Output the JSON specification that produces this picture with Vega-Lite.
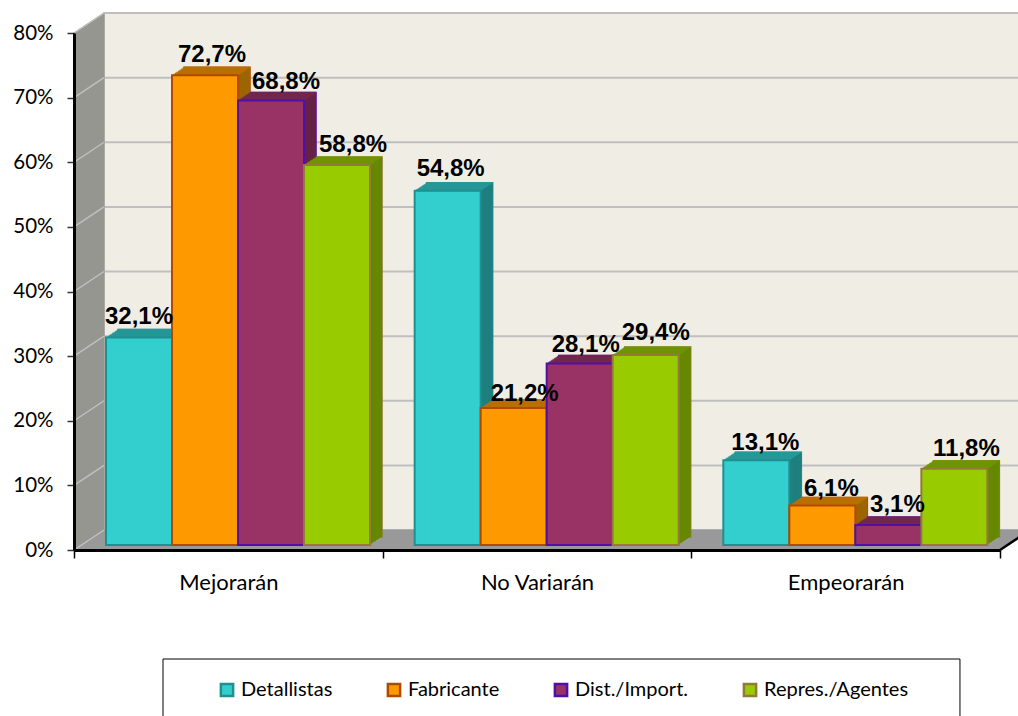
{"$schema":"https://vega.github.io/schema/vega-lite/v6.json","width":926,"height":517,"autosize":"none","padding":{"left":74,"top":33,"right":18,"bottom":166},"background":"white",
"config":{"view":{"stroke":null}},
"datasets":{"bars":[
{"c":"Mejorarán","s":"Detallistas","v":32.1,"label":"32,1%"},{"c":"Mejorarán","s":"Fabricante","v":72.7,"label":"72,7%"},{"c":"Mejorarán","s":"Dist./Import.","v":68.8,"label":"68,8%"},{"c":"Mejorarán","s":"Repres./Agentes","v":58.8,"label":"58,8%"},
{"c":"No Variarán","s":"Detallistas","v":54.8,"label":"54,8%"},{"c":"No Variarán","s":"Fabricante","v":21.2,"label":"21,2%"},{"c":"No Variarán","s":"Dist./Import.","v":28.1,"label":"28,1%"},{"c":"No Variarán","s":"Repres./Agentes","v":29.4,"label":"29,4%"},
{"c":"Empeorarán","s":"Detallistas","v":13.1,"label":"13,1%"},{"c":"Empeorarán","s":"Fabricante","v":6.1,"label":"6,1%"},{"c":"Empeorarán","s":"Dist./Import.","v":3.1,"label":"3,1%"},{"c":"Empeorarán","s":"Repres./Agentes","v":11.8,"label":"11,8%"}],
"grid":[{"g":0},{"g":10},{"g":20},{"g":30},{"g":40},{"g":50},{"g":60},{"g":70},{"g":80}],
"one":[{"k":"frame"}]},
"layer":[
{"data":{"name":"one"},"mark":{"type":"rect","fill":"#F0EEE4","stroke":"#BFBFBF","strokeWidth":2,"xOffset":30,"yOffset":-20,"x2Offset":184.3,"y2Offset":-20},"encoding":{
 "x":{"datum":"Mejorarán","bandPosition":0,"title":null,"scale":{"domain":["Mejorarán","No Variarán","Empeorarán"],"paddingInner":0,"paddingOuter":0},"axis":{"zindex":1,"tickBand":"extent","labelAngle":0,"domainColor":"#000000","domainWidth":3,"tickColor":"#000000","tickWidth":1.5,"tickSize":8,"labelFont":"Lato","labelFontSize":22,"labelColor":"#000000","labelPadding":24,"labelBaseline":"middle"}},
 "x2":{"datum":"Empeorarán"},
 "y":{"datum":0,"title":null,"scale":{"domain":[0,80],"nice":false},"axis":{"zindex":1,"values":[0,10,20,30,40,50,60,70,80],"labelExpr":"datum.value+'%'","domainColor":"#000000","domainWidth":3,"tickColor":"#333333","tickWidth":1.5,"tickSize":7,"labelFont":"Lato","labelFontSize":20.5,"labelColor":"#000000","labelPadding":14}},
 "y2":{"datum":80}}},
{"data":{"name":"grid"},"mark":{"type":"rule","color":"#BFBFBF","strokeWidth":2,"xOffset":30,"yOffset":-20,"x2Offset":184.3,"y2Offset":-20},"encoding":{"x":{"datum":"Mejorarán","bandPosition":0},"x2":{"datum":"Empeorarán"},"y":{"field":"g","type":"quantitative","title":null},"y2":{"field":"g"}}},
{"data":{"name":"one"},"encoding":{"x":{"datum":"Mejorarán","bandPosition":0},"y":{"datum":0},"y2":{"datum":80}},"layer":[
 {"mark":{"type":"rule","color":"#969690","strokeWidth":3,"xOffset":29,"yOffset":-19.3,"y2Offset":-19.3}},
 {"mark":{"type":"rule","color":"#969690","strokeWidth":3,"xOffset":27,"yOffset":-18,"y2Offset":-18}},
 {"mark":{"type":"rule","color":"#969690","strokeWidth":3,"xOffset":25,"yOffset":-16.7,"y2Offset":-16.7}},
 {"mark":{"type":"rule","color":"#969690","strokeWidth":3,"xOffset":23,"yOffset":-15.3,"y2Offset":-15.3}},
 {"mark":{"type":"rule","color":"#969690","strokeWidth":3,"xOffset":21,"yOffset":-14,"y2Offset":-14}},
 {"mark":{"type":"rule","color":"#969690","strokeWidth":3,"xOffset":19,"yOffset":-12.7,"y2Offset":-12.7}},
 {"mark":{"type":"rule","color":"#969690","strokeWidth":3,"xOffset":17,"yOffset":-11.3,"y2Offset":-11.3}},
 {"mark":{"type":"rule","color":"#969690","strokeWidth":3,"xOffset":15,"yOffset":-10,"y2Offset":-10}},
 {"mark":{"type":"rule","color":"#969690","strokeWidth":3,"xOffset":13,"yOffset":-8.7,"y2Offset":-8.7}},
 {"mark":{"type":"rule","color":"#969690","strokeWidth":3,"xOffset":11,"yOffset":-7.3,"y2Offset":-7.3}},
 {"mark":{"type":"rule","color":"#969690","strokeWidth":3,"xOffset":9,"yOffset":-6,"y2Offset":-6}},
 {"mark":{"type":"rule","color":"#969690","strokeWidth":3,"xOffset":7,"yOffset":-4.7,"y2Offset":-4.7}},
 {"mark":{"type":"rule","color":"#969690","strokeWidth":3,"xOffset":5,"yOffset":-3.3,"y2Offset":-3.3}},
 {"mark":{"type":"rule","color":"#969690","strokeWidth":3,"xOffset":3,"yOffset":-2,"y2Offset":-2}},
 {"mark":{"type":"rule","color":"#969690","strokeWidth":3,"xOffset":1,"yOffset":-0.7,"y2Offset":-0.7}}
]},
{"data":{"name":"one"},"encoding":{"x":{"datum":"Mejorarán","bandPosition":0},"x2":{"datum":"Empeorarán"},"y":{"datum":0}},"layer":[
 {"mark":{"type":"rule","color":"#999999","strokeWidth":3,"xOffset":28.5,"x2Offset":182.8,"yOffset":-19}},
 {"mark":{"type":"rule","color":"#999999","strokeWidth":3,"xOffset":25.5,"x2Offset":179.8,"yOffset":-17}},
 {"mark":{"type":"rule","color":"#999999","strokeWidth":3,"xOffset":22.5,"x2Offset":176.8,"yOffset":-15}},
 {"mark":{"type":"rule","color":"#999999","strokeWidth":3,"xOffset":19.5,"x2Offset":173.8,"yOffset":-13}},
 {"mark":{"type":"rule","color":"#999999","strokeWidth":3,"xOffset":16.5,"x2Offset":170.8,"yOffset":-11}},
 {"mark":{"type":"rule","color":"#999999","strokeWidth":3,"xOffset":13.5,"x2Offset":167.8,"yOffset":-9}},
 {"mark":{"type":"rule","color":"#999999","strokeWidth":3,"xOffset":10.5,"x2Offset":164.8,"yOffset":-7}},
 {"mark":{"type":"rule","color":"#999999","strokeWidth":3,"xOffset":7.5,"x2Offset":161.8,"yOffset":-5}},
 {"mark":{"type":"rule","color":"#999999","strokeWidth":3,"xOffset":4.5,"x2Offset":158.8,"yOffset":-3}},
 {"mark":{"type":"rule","color":"#999999","strokeWidth":3,"xOffset":1.5,"x2Offset":155.8,"yOffset":-1}}
]},
{"data":{"name":"grid"},"mark":{"type":"rule","color":"#BFBFBF","strokeWidth":1.5,"x2Offset":-124.33,"y2Offset":-20},"encoding":{"x":{"datum":"Mejorarán","bandPosition":0},"x2":{"datum":"Mejorarán"},"y":{"field":"g","type":"quantitative","title":null},"y2":{"field":"g"}}},
{"data":{"name":"one"},"mark":{"type":"rule","color":"#000000","strokeWidth":2.5,"x2Offset":184.3,"y2Offset":-20},"encoding":{"x":{"datum":"Empeorarán","bandPosition":1},"x2":{"datum":"Empeorarán"},"y":{"datum":0},"y2":{"datum":0}}},
{"data":{"name":"bars"},
 "encoding":{"x":{"field":"c","type":"nominal","title":null,"scale":{"domain":["Mejorarán","No Variarán","Empeorarán"],"paddingInner":0,"paddingOuter":0}},"xOffset":{"field":"s","type":"nominal","scale":{"type":"band","domain":["Detallistas","Fabricante","Dist./Import.","Repres./Agentes"],"paddingInner":0,"paddingOuter":0.338}},"y":{"field":"v","type":"quantitative","title":null}},
 "resolve":{"scale":{"color":"independent","xOffset":"independent"}},
 "layer":[
 {"mark":{"type":"bar","yOffset":-13,"y2Offset":-13,"strokeWidth":1.5},"encoding":{"xOffset":{"field":"s","type":"nominal","scale":{"type":"band","domain":["Detallistas","Fabricante","Dist./Import.","Repres./Agentes"],"paddingInner":0,"paddingOuter":0.338,"align":0.986}},"y2":{"datum":0},"fill":{"field":"s","type":"nominal","title":null,"scale":{"domain":["Detallistas","Fabricante","Dist./Import.","Repres./Agentes"],"range":["#33CFCF","#FF9900","#993366","#99CC00"]},"legend":{"orient":"none","legendX":143,"legendY":647,"columns":4,"gridAlign":"none","columnPadding":49,"symbolType":"square","symbolSize":150,"symbolStrokeWidth":2.5,"labelFont":"Lato","labelFontSize":20,"labelColor":"#000000","labelOffset":4,"labelLimit":300,"padding":0}},"stroke":{"field":"s","type":"nominal","title":null,"scale":{"domain":["Detallistas","Fabricante","Dist./Import.","Repres./Agentes"],"range":["#1F8F8F","#B04A00","#5010A8","#937A3C"]}}}},
 {"mark":{"type":"bar","yOffset":-13,"y2Offset":-13},"encoding":{"xOffset":{"field":"s","type":"nominal","scale":{"type":"band","domain":["Detallistas","Fabricante","Dist./Import.","Repres./Agentes"],"paddingInner":0,"paddingOuter":0.338,"align":0.986}},"y2":{"datum":0},"color":{"field":"s","type":"nominal","scale":{"range":["#1E7F7F","#662244","#9C6500","#668800"]},"legend":null}}},
 {"mark":{"type":"tick","size":66,"thickness":1.5,"yOffset":-13},"encoding":{"xOffset":{"field":"s","type":"nominal","scale":{"type":"band","domain":["Detallistas","Fabricante","Dist./Import.","Repres./Agentes"],"paddingInner":0,"paddingOuter":0.338,"align":0.986}},"color":{"field":"s","type":"nominal","scale":{"range":["#289E9E","#772850","#C07400","#739900"]},"legend":null}}},
 {"mark":{"type":"bar","yOffset":-12,"y2Offset":-12},"encoding":{"xOffset":{"field":"s","type":"nominal","scale":{"type":"band","domain":["Detallistas","Fabricante","Dist./Import.","Repres./Agentes"],"paddingInner":0,"paddingOuter":0.338,"align":0.953}},"y2":{"datum":0},"color":{"field":"s","type":"nominal","scale":{"range":["#1E7F7F","#662244","#9C6500","#668800"]},"legend":null}}},
 {"mark":{"type":"tick","size":66,"thickness":1.5,"yOffset":-12},"encoding":{"xOffset":{"field":"s","type":"nominal","scale":{"type":"band","domain":["Detallistas","Fabricante","Dist./Import.","Repres./Agentes"],"paddingInner":0,"paddingOuter":0.338,"align":0.953}},"color":{"field":"s","type":"nominal","scale":{"range":["#289E9E","#772850","#C07400","#739900"]},"legend":null}}},
 {"mark":{"type":"bar","yOffset":-11,"y2Offset":-11},"encoding":{"xOffset":{"field":"s","type":"nominal","scale":{"type":"band","domain":["Detallistas","Fabricante","Dist./Import.","Repres./Agentes"],"paddingInner":0,"paddingOuter":0.338,"align":0.919}},"y2":{"datum":0},"color":{"field":"s","type":"nominal","scale":{"range":["#1E7F7F","#662244","#9C6500","#668800"]},"legend":null}}},
 {"mark":{"type":"tick","size":66,"thickness":1.5,"yOffset":-11},"encoding":{"xOffset":{"field":"s","type":"nominal","scale":{"type":"band","domain":["Detallistas","Fabricante","Dist./Import.","Repres./Agentes"],"paddingInner":0,"paddingOuter":0.338,"align":0.919}},"color":{"field":"s","type":"nominal","scale":{"range":["#289E9E","#772850","#C07400","#739900"]},"legend":null}}},
 {"mark":{"type":"bar","yOffset":-10,"y2Offset":-10},"encoding":{"xOffset":{"field":"s","type":"nominal","scale":{"type":"band","domain":["Detallistas","Fabricante","Dist./Import.","Repres./Agentes"],"paddingInner":0,"paddingOuter":0.338,"align":0.885}},"y2":{"datum":0},"color":{"field":"s","type":"nominal","scale":{"range":["#1E7F7F","#662244","#9C6500","#668800"]},"legend":null}}},
 {"mark":{"type":"tick","size":66,"thickness":1.5,"yOffset":-10},"encoding":{"xOffset":{"field":"s","type":"nominal","scale":{"type":"band","domain":["Detallistas","Fabricante","Dist./Import.","Repres./Agentes"],"paddingInner":0,"paddingOuter":0.338,"align":0.885}},"color":{"field":"s","type":"nominal","scale":{"range":["#289E9E","#772850","#C07400","#739900"]},"legend":null}}},
 {"mark":{"type":"bar","yOffset":-9,"y2Offset":-9},"encoding":{"xOffset":{"field":"s","type":"nominal","scale":{"type":"band","domain":["Detallistas","Fabricante","Dist./Import.","Repres./Agentes"],"paddingInner":0,"paddingOuter":0.338,"align":0.852}},"y2":{"datum":0},"color":{"field":"s","type":"nominal","scale":{"range":["#1E7F7F","#662244","#9C6500","#668800"]},"legend":null}}},
 {"mark":{"type":"tick","size":66,"thickness":1.5,"yOffset":-9},"encoding":{"xOffset":{"field":"s","type":"nominal","scale":{"type":"band","domain":["Detallistas","Fabricante","Dist./Import.","Repres./Agentes"],"paddingInner":0,"paddingOuter":0.338,"align":0.852}},"color":{"field":"s","type":"nominal","scale":{"range":["#289E9E","#772850","#C07400","#739900"]},"legend":null}}},
 {"mark":{"type":"bar","yOffset":-8,"y2Offset":-8},"encoding":{"xOffset":{"field":"s","type":"nominal","scale":{"type":"band","domain":["Detallistas","Fabricante","Dist./Import.","Repres./Agentes"],"paddingInner":0,"paddingOuter":0.338,"align":0.818}},"y2":{"datum":0},"color":{"field":"s","type":"nominal","scale":{"range":["#1E7F7F","#662244","#9C6500","#668800"]},"legend":null}}},
 {"mark":{"type":"tick","size":66,"thickness":1.5,"yOffset":-8},"encoding":{"xOffset":{"field":"s","type":"nominal","scale":{"type":"band","domain":["Detallistas","Fabricante","Dist./Import.","Repres./Agentes"],"paddingInner":0,"paddingOuter":0.338,"align":0.818}},"color":{"field":"s","type":"nominal","scale":{"range":["#289E9E","#772850","#C07400","#739900"]},"legend":null}}},
 {"mark":{"type":"bar","yOffset":-7,"y2Offset":-7},"encoding":{"xOffset":{"field":"s","type":"nominal","scale":{"type":"band","domain":["Detallistas","Fabricante","Dist./Import.","Repres./Agentes"],"paddingInner":0,"paddingOuter":0.338,"align":0.784}},"y2":{"datum":0},"color":{"field":"s","type":"nominal","scale":{"range":["#1E7F7F","#662244","#9C6500","#668800"]},"legend":null}}},
 {"mark":{"type":"tick","size":66,"thickness":1.5,"yOffset":-7},"encoding":{"xOffset":{"field":"s","type":"nominal","scale":{"type":"band","domain":["Detallistas","Fabricante","Dist./Import.","Repres./Agentes"],"paddingInner":0,"paddingOuter":0.338,"align":0.784}},"color":{"field":"s","type":"nominal","scale":{"range":["#289E9E","#772850","#C07400","#739900"]},"legend":null}}},
 {"mark":{"type":"bar","yOffset":-6,"y2Offset":-6},"encoding":{"xOffset":{"field":"s","type":"nominal","scale":{"type":"band","domain":["Detallistas","Fabricante","Dist./Import.","Repres./Agentes"],"paddingInner":0,"paddingOuter":0.338,"align":0.751}},"y2":{"datum":0},"color":{"field":"s","type":"nominal","scale":{"range":["#1E7F7F","#662244","#9C6500","#668800"]},"legend":null}}},
 {"mark":{"type":"tick","size":66,"thickness":1.5,"yOffset":-6},"encoding":{"xOffset":{"field":"s","type":"nominal","scale":{"type":"band","domain":["Detallistas","Fabricante","Dist./Import.","Repres./Agentes"],"paddingInner":0,"paddingOuter":0.338,"align":0.751}},"color":{"field":"s","type":"nominal","scale":{"range":["#289E9E","#772850","#C07400","#739900"]},"legend":null}}},
 {"mark":{"type":"bar","yOffset":-5,"y2Offset":-5,"strokeWidth":2},"encoding":{"xOffset":{"field":"s","type":"nominal","scale":{"type":"band","domain":["Detallistas","Fabricante","Dist./Import.","Repres./Agentes"],"paddingInner":0,"paddingOuter":0.338,"align":0.717}},"y2":{"datum":0},"fill":{"field":"s","type":"nominal"},"stroke":{"field":"s","type":"nominal"}}},
 {"mark":{"type":"text","font":"Liberation Sans","fontWeight":"bold","fontSize":24,"color":"#000000","baseline":"middle","dx":9.7,"dy":-26},"encoding":{"text":{"field":"label"}},"transform":[{"filter":"datum.label=='32,1%'"}]},
 {"mark":{"type":"text","font":"Liberation Sans","fontWeight":"bold","fontSize":24,"color":"#000000","baseline":"middle","dx":16.7,"dy":-25},"encoding":{"text":{"field":"label"}},"transform":[{"filter":"datum.label=='72,7%'"}]},
 {"mark":{"type":"text","font":"Liberation Sans","fontWeight":"bold","fontSize":24,"color":"#000000","baseline":"middle","dx":24.7,"dy":-23},"encoding":{"text":{"field":"label"}},"transform":[{"filter":"datum.label=='68,8%'"}]},
 {"mark":{"type":"text","font":"Liberation Sans","fontWeight":"bold","fontSize":24,"color":"#000000","baseline":"middle","dx":25.7,"dy":-25},"encoding":{"text":{"field":"label"}},"transform":[{"filter":"datum.label=='58,8%'"}]},
 {"mark":{"type":"text","font":"Liberation Sans","fontWeight":"bold","fontSize":24,"color":"#000000","baseline":"middle","dx":12.7,"dy":-27},"encoding":{"text":{"field":"label"}},"transform":[{"filter":"datum.label=='54,8%'"}]},
 {"mark":{"type":"text","font":"Liberation Sans","fontWeight":"bold","fontSize":24,"color":"#000000","baseline":"middle","dx":20.7,"dy":-19},"encoding":{"text":{"field":"label"}},"transform":[{"filter":"datum.label=='21,2%'"}]},
 {"mark":{"type":"text","font":"Liberation Sans","fontWeight":"bold","fontSize":24,"color":"#000000","baseline":"middle","dx":15.7,"dy":-23},"encoding":{"text":{"field":"label"}},"transform":[{"filter":"datum.label=='28,1%'"}]},
 {"mark":{"type":"text","font":"Liberation Sans","fontWeight":"bold","fontSize":24,"color":"#000000","baseline":"middle","dx":19.7,"dy":-27},"encoding":{"text":{"field":"label"}},"transform":[{"filter":"datum.label=='29,4%'"}]},
 {"mark":{"type":"text","font":"Liberation Sans","fontWeight":"bold","fontSize":24,"color":"#000000","baseline":"middle","dx":18.7,"dy":-22},"encoding":{"text":{"field":"label"}},"transform":[{"filter":"datum.label=='13,1%'"}]},
 {"mark":{"type":"text","font":"Liberation Sans","fontWeight":"bold","fontSize":24,"color":"#000000","baseline":"middle","dx":18.7,"dy":-22},"encoding":{"text":{"field":"label"}},"transform":[{"filter":"datum.label=='6,1%'"}]},
 {"mark":{"type":"text","font":"Liberation Sans","fontWeight":"bold","fontSize":24,"color":"#000000","baseline":"middle","dx":18.7,"dy":-25},"encoding":{"text":{"field":"label"}},"transform":[{"filter":"datum.label=='3,1%'"}]},
 {"mark":{"type":"text","font":"Liberation Sans","fontWeight":"bold","fontSize":24,"color":"#000000","baseline":"middle","dx":21.7,"dy":-25},"encoding":{"text":{"field":"label"}},"transform":[{"filter":"datum.label=='11,8%'"}]}
 ]},
{"data":{"name":"one"},"mark":{"type":"rect","fill":"#FFFFFF","stroke":"#000000","strokeWidth":1,"xOffset":89,"x2Offset":114.3,"yOffset":109,"y2Offset":180,"clip":false},"encoding":{"x":{"datum":"Mejorarán","bandPosition":0},"x2":{"datum":"Empeorarán"},"y":{"datum":0},"y2":{"datum":0}}}
]}
